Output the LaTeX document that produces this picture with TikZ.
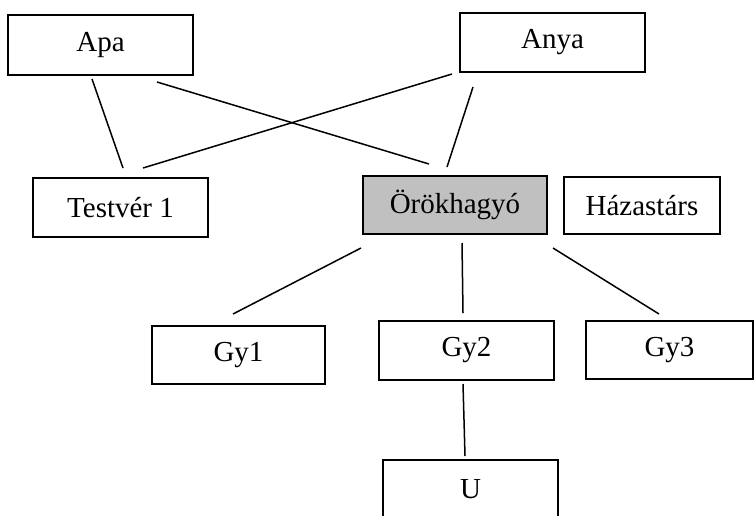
\documentclass[tikz,border=0pt]{standalone}
\usepackage{fontspec}
\setmainfont{Liberation Serif}
\definecolor{boxgrey}{RGB}{192,192,192}
\begin{document}
\begin{tikzpicture}[x=1pt,y=-1pt,
  box/.style={draw=black,line width=1.7pt,rectangle,inner sep=0pt,
    font=\fontsize{29}{34}\selectfont},
  conn/.style={line width=1.5pt}]
\clip (0,0) rectangle (754,515);
\fill[white] (0,0) rectangle (754,515);
% boxes
\node[box,minimum width=185,minimum height=60] (apa) at (100.5,45) {Apa};
\node[box,minimum width=185,minimum height=59] (anya) at (552.5,42.5) {Anya};
\node[box,minimum width=175,minimum height=59] (testver) at (120.5,207.5) {Testvér 1};
\node[box,fill=boxgrey,minimum width=184,minimum height=58] (orok) at (455,205) {Örökhagyó};
\node[box,minimum width=156,minimum height=57] (hazas) at (642,205.5) {Házastárs};
\node[box,minimum width=173,minimum height=58] (gy1) at (238.5,355) {Gy1};
\node[box,minimum width=175,minimum height=59] (gy2) at (466.5,350.5) {Gy2};
\node[box,minimum width=167,minimum height=58] (gy3) at (669.5,350) {Gy3};
\node[box,minimum width=175,minimum height=120,anchor=north] (u) at (470.5,459) {};
\node[font=\fontsize{29}{34}\selectfont] (utext) at (470.5,489) {U};
% connector end points
\coordinate (a1) at (92,79);   \coordinate (t1) at (123,168);
\coordinate (a2) at (157,82);  \coordinate (o2) at (429,164);
\coordinate (n3) at (452,74);  \coordinate (t3) at (143,168);
\coordinate (n4) at (473,87);  \coordinate (o4) at (447,167);
\coordinate (o5) at (361,248); \coordinate (g5) at (233,314);
\coordinate (o6) at (462,243); \coordinate (g6) at (463,313);
\coordinate (o7) at (553,248); \coordinate (g7) at (659,314);
\coordinate (g8) at (463,384); \coordinate (u8) at (465,456);
\draw[conn] (a1) -- (t1);
\draw[conn] (a2) -- (o2);
\draw[conn] (n3) -- (t3);
\draw[conn] (n4) -- (o4);
\draw[conn] (o5) -- (g5);
\draw[conn] (o6) -- (g6);
\draw[conn] (o7) -- (g7);
\draw[conn] (g8) -- (u8);
\end{tikzpicture}
\end{document}
